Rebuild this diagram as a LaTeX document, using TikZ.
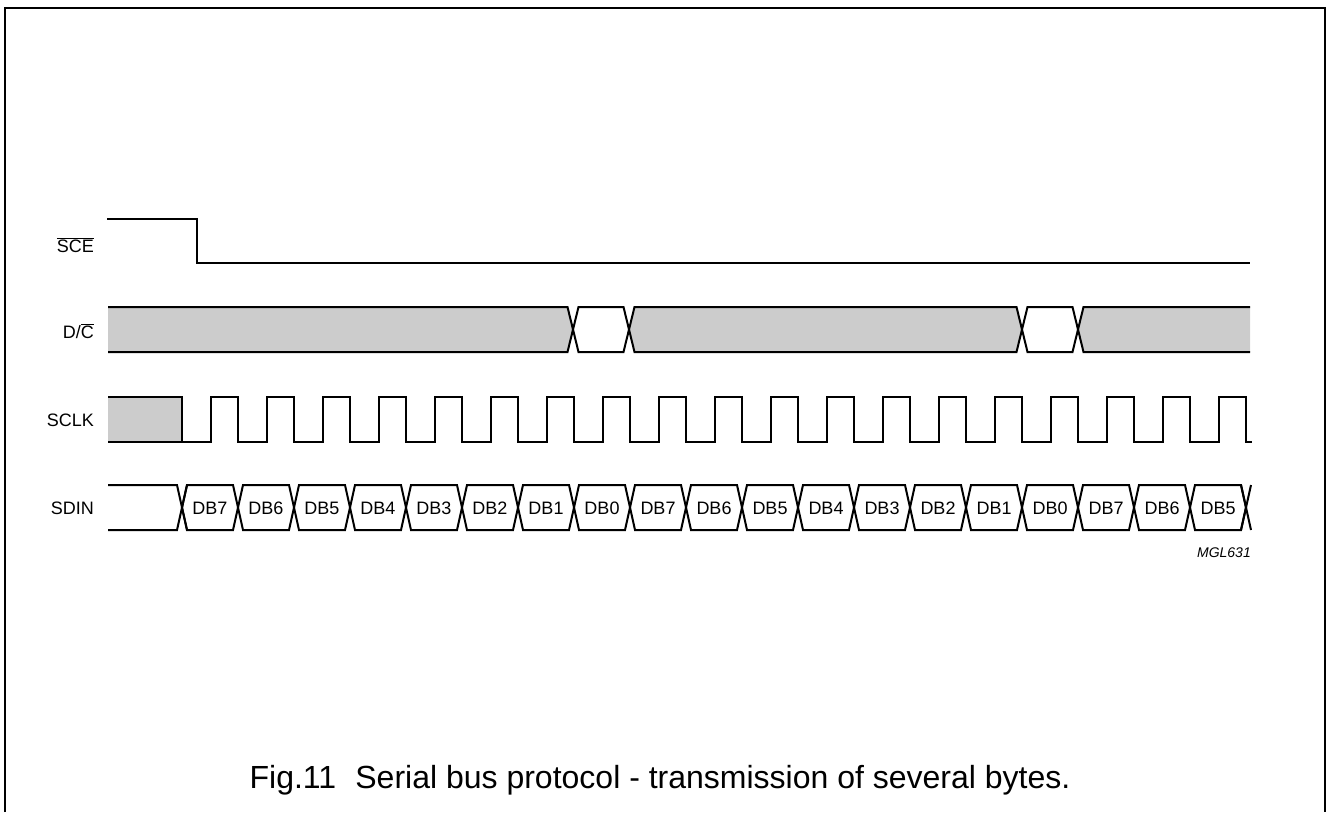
\documentclass[tikz,border=0pt]{standalone}
\usepackage{fontspec}
\setmainfont{Liberation Sans}
\tikzset{
  sinal/.style={line width=2pt,line join=miter,black},
  cinza/.style={fill=black!20},
  moldura/.style={line width=1.5pt,black},
  rotulo/.style={font=\fontsize{18}{20}\selectfont,inner sep=0pt,anchor=base east},
  bitrot/.style={font=\fontsize{18}{20}\selectfont,inner sep=0pt,anchor=base},
  refrot/.style={font=\fontsize{14}{16}\selectfont\itshape,inner sep=0pt,anchor=base east},
  legenda/.style={font=\fontsize{32}{35}\selectfont,inner sep=0pt,anchor=base},
}
\newcommand{\bitw}{56}
\begin{document}
\begin{tikzpicture}[x=1pt,y=-1pt]
\useasboundingbox (0,0) rectangle (1328,812);
% moldura
\draw[moldura] (5,812) -- (5,8) -- (1325,8) -- (1325,812);
% rotulos dos sinais
\node[rotulo] (sce) at (94,252) {$\overline{\mbox{SCE}}$};
\node[rotulo] (dc) at (94,338) {D/$\overline{\mbox{C}}$};
\node[rotulo] (sclk) at (94,426) {SCLK};
\node[rotulo] (sdin) at (94,514) {SDIN};
% SCE
\draw[sinal] (107,219) -- (197,219) -- (197,263) -- (1250,263);
% D/C
\fill[cinza] (108,307) -- (567.5,307) -- (573,329.5) -- (567.5,352) -- (108,352) -- cycle;
\fill[cinza] (629,329.5) -- (634.5,307) -- (1016.5,307) -- (1022,329.5) -- (1016.5,352) -- (634.5,352) -- cycle;
\fill[cinza] (1078,329.5) -- (1083.5,307) -- (1250,307) -- (1250,352) -- (1083.5,352) -- cycle;
\draw[sinal] (108,307) -- (567.5,307) -- (578.5,352) -- (623.5,352) -- (634.5,307) -- (1016.5,307)
  -- (1027.5,352) -- (1072.5,352) -- (1083.5,307) -- (1250,307);
\draw[sinal] (108,352) -- (567.5,352) -- (578.5,307) -- (623.5,307) -- (634.5,352) -- (1016.5,352)
  -- (1027.5,307) -- (1072.5,307) -- (1083.5,352) -- (1250,352);
% SCLK
\fill[cinza] (108,397) rectangle (182,442);
\draw[sinal] (108,397) -- (182,397) -- (182,442);
\draw[sinal] (108,442) \foreach \k in {0,...,18} {
  -- (211+\bitw*\k,442) -- (211+\bitw*\k,397) -- (238+\bitw*\k,397) -- (238+\bitw*\k,442)
} -- (1252,442);
% SDIN
\draw[sinal] (108,485) -- (177,485) -- (187,530);
\draw[sinal] (108,530) -- (177,530) -- (187,485);
\foreach \k in {0,...,18} {
  \draw[sinal] (182+\bitw*\k,507.5) -- (187+\bitw*\k,485) -- (233+\bitw*\k,485) -- (238+\bitw*\k,507.5)
    -- (233+\bitw*\k,530) -- (187+\bitw*\k,530) -- cycle;
}
\draw[sinal] (1241,485) -- (1251,530);
\draw[sinal] (1241,530) -- (1251,485);
\foreach \lab [count=\i from 0] in {DB7,DB6,DB5,DB4,DB3,DB2,DB1,DB0,DB7,DB6,DB5,DB4,DB3,DB2,DB1,DB0,DB7,DB6,DB5}
  \node[bitrot] (b\i) at (210+\bitw*\i,514) {\lab};
\node[refrot] (ref) at (1251,557) {MGL631};
% legenda
\node[legenda] (leg) at (660,788) {Fig.11\hspace{0.6em}Serial bus protocol - transmission of several bytes.};
\end{tikzpicture}
\end{document}
